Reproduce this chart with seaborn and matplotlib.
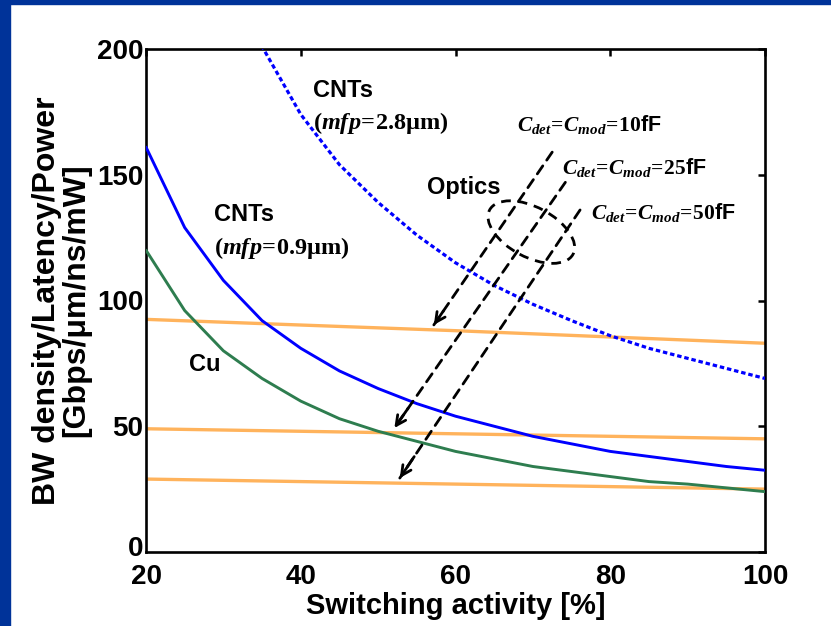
import numpy as np
import pandas as pd
import matplotlib
matplotlib.use("Agg")
import matplotlib.pyplot as plt
import matplotlib.transforms as mtransforms
from matplotlib.patches import Ellipse, Rectangle
import seaborn as sns

# ---- data ----
activity = [20, 25, 30, 35, 40, 45, 50, 55, 60, 65, 70, 75, 80, 85, 90, 95, 100]
cnt_09 = [161, 129, 108, 92, 81, 72, 65, 59, 54, 50, 46, 43, 40, 38, 36, 34, 32.5]
cu = [120, 96, 80, 69, 60, 53, 48, 44, 40, 37, 34, 32, 30, 28, 27, 25.5, 24]
activity_28 = [30, 35, 40, 45, 50, 55, 60, 65, 70, 75, 80, 85, 90, 95, 100]
cnt_28 = [233, 201, 174, 154, 139, 126, 115, 106, 98.5, 92, 86, 81, 77, 73, 69]
opt_x = [20, 60, 100]
opt_10 = [92.5, 88, 83]
opt_25 = [49, 47, 45]
opt_50 = [29, 27, 25]

xticks = [20, 40, 60, 80, 100]
yticks = [0, 50, 100, 150, 200]

sns.set_style("white")
plt.rcParams["font.family"] = ["Liberation Sans", "DejaVu Sans"]
plt.rcParams["text.color"] = "black"
plt.rcParams["axes.labelcolor"] = "black"
plt.rcParams["xtick.color"] = "black"
plt.rcParams["ytick.color"] = "black"
plt.rcParams["mathtext.fontset"] = "custom"
plt.rcParams["mathtext.rm"] = "Liberation Serif:bold"
plt.rcParams["mathtext.it"] = "Liberation Serif:bold:italic"
plt.rcParams["mathtext.bf"] = "Liberation Serif:bold"
plt.rcParams["mathtext.sf"] = "Liberation Sans:bold"

fig = plt.figure(figsize=(8.31, 6.26), dpi=100)
fig.patch.set_facecolor("white")
# dark blue slide frame (top and left)
fig.add_artist(Rectangle((0, 1 - 4 / 626), 1, 4 / 626, transform=fig.transFigure,
                         color="#003399", zorder=0))
fig.add_artist(Rectangle((0, 0), 10 / 831, 1, transform=fig.transFigure,
                         color="#003399", zorder=0))

ax = fig.add_axes([146 / 831, 74 / 626, 619 / 831, 503 / 626])

orange = "#FFB35C"
for ys in (opt_10, opt_25, opt_50):
    sns.lineplot(x=opt_x, y=ys, ax=ax, color=orange, lw=2.4, zorder=2)
sns.lineplot(x=activity, y=cu, ax=ax, color="#2E7D4F", lw=2.1, zorder=3)
sns.lineplot(x=activity, y=cnt_09, ax=ax, color="#0000FF", lw=2.1, zorder=3)
l28 = sns.lineplot(x=activity_28, y=cnt_28, ax=ax, color="#0000FF", lw=2.3, zorder=3)
l28.lines[-1].set_dashes((1.4, 0.9))

ax.set_xlim(20, 100)
ax.set_ylim(0, 200)
ax.set_xticks(xticks)
ax.set_yticks(yticks)
ax.tick_params(direction="in", length=5, width=1.8, top=True, right=True,
               labelsize=20)
ax.tick_params(axis="y", pad=2)
ax.tick_params(axis="x", pad=9)
for lab in ax.get_xticklabels() + ax.get_yticklabels():
    lab.set_fontweight("bold")
for s in ax.spines.values():
    s.set_linewidth(1.9)
    s.set_color("black")
# lift the "0" label a little, as in the reference
t0 = ax.yaxis.get_major_ticks()[0].label1
t0.set_transform(t0.get_transform() +
                 mtransforms.ScaledTranslation(0, 4 / 72, fig.dpi_scale_trans))

ax.set_xlabel("Switching activity [%]", fontsize=21, fontweight="bold", labelpad=1)
ax.set_ylabel("BW density/Latency/Power\n[Gbps/\u03bcm/ns/mW]", fontsize=23,
              fontweight="bold", labelpad=4, linespacing=0.95)

# ---- annotations ----
sans = dict(fontsize=17, fontweight="bold", va="center", ha="left", color="black")
serif = dict(fontsize=17.5, va="center", ha="left", color="black")
cser = dict(fontsize=15.5, va="center", ha="left", color="black")
ax.text(41.6, 183.5, "CNTs", **sans)
ax.text(41.6, 170.5, r"$(\mathit{mfp}\!=\!\mathrm{2.8\mu m})$", **serif)
ax.text(28.8, 134, "CNTs", **sans)
ax.text(28.8, 121, r"$(\mathit{mfp}\!=\!\mathrm{0.9\mu m})$", **serif)
ax.text(25.5, 74.5, "Cu", **sans)
ax.text(56.3, 145, "Optics", **sans)
ax.text(68.0, 170, r"$C_{det}\!=\!C_{mod}\!=\!\mathrm{10}\mathsf{fF}$", **cser)
ax.text(73.7, 153, r"$C_{det}\!=\!C_{mod}\!=\!\mathrm{25}\mathsf{fF}$", **cser)
ax.text(77.5, 135, r"$C_{det}\!=\!C_{mod}\!=\!\mathrm{50}\mathsf{fF}$", **cser)

arrows = [((72.5, 159), (57.2, 90.3)),
          ((74.2, 147), (52.1, 49.3)),
          ((76.1, 136), (52.8, 29.4))]
for (x0, y0), (x1, y1) in arrows:
    ax.annotate("", xy=(x1, y1), xytext=(x0, y0),
                arrowprops=dict(arrowstyle="-", lw=2, linestyle=(0, (3.5, 2.5)),
                                color="black", shrinkA=0, shrinkB=0), zorder=5)
    fx, fy = x0 + (x1 - x0) * 0.92, y0 + (y1 - y0) * 0.92
    ax.annotate("", xy=(x1, y1), xytext=(fx, fy),
                arrowprops=dict(arrowstyle="->,head_length=0.7,head_width=0.35",
                                lw=2, color="black", shrinkA=0, shrinkB=0), zorder=5)

# dashed ellipse ("Optics"), sized in pixels and placed in data coords
trans = mtransforms.Affine2D().scale(fig.dpi / 72) + \
    mtransforms.ScaledTranslation(69.8, 127.2, ax.transData)
ell = Ellipse((0, 0), width=68, height=36, angle=-28, fill=False, lw=2,
              ls=(0, (3.5, 2.5)), ec="black", transform=trans, zorder=5)
ax.add_patch(ell)

fig.savefig("out.png", dpi=100, facecolor="white")
